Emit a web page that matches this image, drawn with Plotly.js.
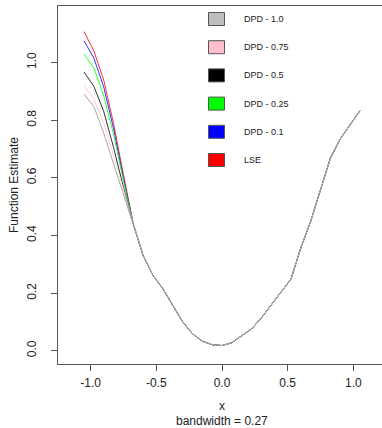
<!DOCTYPE html>
<html>
<head>
<meta charset="utf-8">
<script src="https://cdn.plot.ly/plotly-3.0.1.min.js"></script>
<style>
html, body { margin: 0; padding: 0; overflow: hidden; background: #fff; }
#chart { width: 386px; height: 428px; }
</style>
</head>
<body>
<div id="chart"></div>
<script>
// ---- data ----
const xGrid = [-1.05, -0.975, -0.9, -0.825, -0.75, -0.675, -0.6, -0.525, -0.45, -0.375,
  -0.3, -0.225, -0.15, -0.075, 0, 0.075, 0.15, 0.225, 0.3, 0.375,
  0.45, 0.525, 0.6, 0.675, 0.75, 0.825, 0.9, 0.975, 1.05];

const yLSE    = [1.107, 1.040, 0.939, 0.788, 0.611, 0.440, 0.330, 0.261, 0.215, 0.159, 0.101, 0.059, 0.033, 0.021, 0.018, 0.028, 0.053, 0.076, 0.114, 0.160, 0.206, 0.249, 0.357, 0.449, 0.559, 0.668, 0.735, 0.782, 0.833];
const yDPD010 = [1.075, 1.015, 0.915, 0.770, 0.600, 0.440, 0.330, 0.261, 0.215, 0.159, 0.101, 0.059, 0.033, 0.021, 0.018, 0.028, 0.053, 0.076, 0.114, 0.160, 0.206, 0.249, 0.357, 0.449, 0.559, 0.668, 0.735, 0.782, 0.833];
const yDPD025 = [1.029, 0.981, 0.885, 0.750, 0.590, 0.440, 0.330, 0.261, 0.215, 0.159, 0.101, 0.059, 0.033, 0.021, 0.018, 0.028, 0.053, 0.076, 0.114, 0.160, 0.206, 0.249, 0.357, 0.449, 0.559, 0.668, 0.735, 0.782, 0.833];
const yDPD050 = [0.967, 0.917, 0.830, 0.705, 0.567, 0.440, 0.330, 0.261, 0.215, 0.159, 0.101, 0.059, 0.033, 0.021, 0.018, 0.028, 0.053, 0.076, 0.114, 0.160, 0.206, 0.249, 0.357, 0.449, 0.559, 0.668, 0.735, 0.782, 0.833];
const yDPD075 = [0.920, 0.874, 0.790, 0.675, 0.553, 0.440, 0.330, 0.261, 0.215, 0.159, 0.101, 0.059, 0.033, 0.021, 0.018, 0.028, 0.053, 0.076, 0.114, 0.160, 0.206, 0.249, 0.357, 0.449, 0.559, 0.668, 0.735, 0.782, 0.833];
const yDPD100 = [0.890, 0.847, 0.755, 0.648, 0.542, 0.440, 0.330, 0.261, 0.215, 0.159, 0.101, 0.059, 0.033, 0.021, 0.018, 0.028, 0.053, 0.076, 0.114, 0.160, 0.206, 0.249, 0.357, 0.449, 0.559, 0.668, 0.735, 0.782, 0.833];

const legendLabels = ["DPD - 1.0", "DPD - 0.75", "DPD - 0.5", "DPD - 0.25", "DPD - 0.1", "LSE"];
const legendColors = ["#BEBEBE", "#FFC0CB", "#000000", "#00FF00", "#0000FF", "#FF0000"];

const xTicks = [-1.0, -0.5, 0.0, 0.5, 1.0];
const yTicks = [0.0, 0.2, 0.4, 0.6, 0.8, 1.0];

// ---- drawing ----
const series = [
  {name: "LSE", y: yLSE, color: "#FF0000"},
  {name: "DPD - 0.1", y: yDPD010, color: "#0000FF"},
  {name: "DPD - 0.25", y: yDPD025, color: "#00FF00"},
  {name: "DPD - 0.5", y: yDPD050, color: "#000000"},
  {name: "DPD - 0.75", y: yDPD075, color: "#FFC0CB"},
  {name: "DPD - 1.0", y: yDPD100, color: "#BEBEBE"}
];

const traces = series.map(s => ({
  type: "scatter", mode: "lines", name: s.name,
  x: xGrid, y: s.y,
  line: {color: s.color, width: 1},
  opacity: 0.8,
  showlegend: false, hoverinfo: "skip"
}));
traces[traces.length - 1].opacity = 1;
traces[traces.length - 1].line.color = "#A8A8A8";

const W = 386, H = 428, ML = 58, MR = 0, MT = 6, MB = 64;
const PW = W - ML - MR, PH = H - MT - MB;
const px2paperX = p => (p - ML) / PW;
const px2paperY = p => (H - MB - p) / PH;

const shapes = [];
const annotations = [];
const rowY0 = 19, rowGap = 28.2;
legendLabels.forEach((lab, i) => {
  const cy = rowY0 + i * rowGap;
  shapes.push({
    type: "rect", xref: "paper", yref: "paper",
    x0: px2paperX(208.5), x1: px2paperX(224.5),
    y0: px2paperY(cy + 6.5), y1: px2paperY(cy - 6.5),
    fillcolor: legendColors[i], line: {color: "#555555", width: 1}
  });
  annotations.push({
    xref: "paper", yref: "paper", x: px2paperX(242), y: px2paperY(cy),
    xanchor: "left", yanchor: "middle", showarrow: false,
    text: lab, font: {family: "Liberation Sans, Arial, sans-serif", size: 9, color: "#222"}
  });
});
annotations.push({
  xref: "x", yref: "paper", x: 0, y: px2paperY(420.5),
  xanchor: "center", yanchor: "middle", showarrow: false,
  text: "bandwidth = 0.27", font: {family: "Liberation Sans, Arial, sans-serif", size: 12, color: "#222"}
});

const axisFont = {family: "Liberation Sans, Arial, sans-serif", size: 12, color: "#222"};

const layout = {
  width: W, height: H,
  margin: {l: ML, r: MR, t: MT, b: MB, pad: 0},
  paper_bgcolor: "#fff", plot_bgcolor: "#fff",
  showlegend: false,
  font: axisFont,
  xaxis: {
    range: [-1.248, 1.248], showgrid: false, zeroline: false,
    tickvals: xTicks, ticktext: xTicks.map(v => v.toFixed(1)),
    ticks: "outside", ticklen: 6, tickwidth: 1, tickcolor: "#555",
    showline: true, linecolor: "#555", linewidth: 1, mirror: true,
    tickfont: axisFont, ticklabelstandoff: 2,
    title: {text: "x", font: axisFont, standoff: 12}
  },
  yaxis: {
    range: [-0.046, 1.196], showgrid: false, zeroline: false,
    tickvals: yTicks, ticktext: yTicks.map(v => v.toFixed(1)),
    ticks: "outside", ticklen: 6, tickwidth: 1, tickcolor: "#555",
    showline: true, linecolor: "#555", linewidth: 1,
    tickangle: -90, tickfont: axisFont, ticklabelstandoff: 10,
    title: {text: "Function Estimate", font: axisFont, standoff: 4}
  },
  shapes: shapes,
  annotations: annotations
};

Plotly.newPlot("chart", traces, layout, {staticPlot: true, displayModeBar: false});
</script>
</body>
</html>
